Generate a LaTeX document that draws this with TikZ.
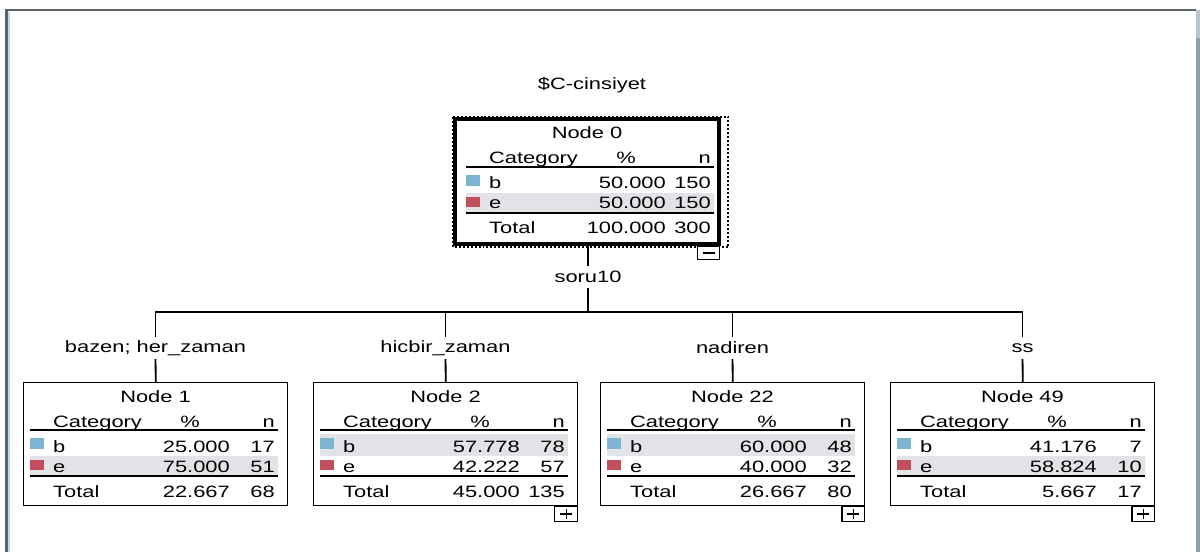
\documentclass[tikz,border=0pt]{standalone}
\usepackage{fontspec}
\setmainfont{Liberation Sans}[FakeStretch=1.33]
\newcommand{\fs}{\fontsize{16.5}{18}\selectfont}
\definecolor{gband}{HTML}{E2E3E6}
\definecolor{cb}{HTML}{7DB3D3}
\definecolor{ce}{HTML}{C1505C}
\definecolor{framec}{HTML}{5E646C}
\definecolor{framel}{HTML}{C8D4E0}
\definecolor{rbar}{HTML}{8AA0A6}
\definecolor{rbartop}{HTML}{B8C4D0}
\tikzset{
  txt/.style={inner sep=0pt, font=\fs},
  lab/.style={txt, inner xsep=2pt, inner ysep=0pt, minimum height=22pt},
  treebox/.style={draw, line width=1.4pt, anchor=north west, inner sep=0pt},
  rule/.style={line width=1.5pt},
  conn/.style={line width=1.8pt},
  tog/.style={draw, line width=1.3pt, anchor=north east, minimum width=23pt, minimum height=15pt, inner sep=0pt, fill=white},
  glyph/.style={line width=1.6pt},
  focus/.style={line width=2pt, dash pattern=on 2pt off 2pt}
}
\begin{document}
\begin{tikzpicture}[x=1bp,y=-1bp]
\useasboundingbox (0,0) rectangle (1200,552);
% window frame
\fill[rbar] (1196,10) rectangle (1200,552);
\fill[rbartop] (1196,10) rectangle (1200,38);
\draw[framel, line width=1.5pt] (9,552) -- (9,12);
\draw[framec, line width=3pt] (6.5,552) -- (6.5,10) -- (1196,10);

% boxes with contents
\foreach \nm/\L/\T/\W/\H/\dx/\ti/\bp/\bn/\ep/\en/\tp/\tn/\gt/\gh in {
  n0/455/119/264/124/4/Node 0/50.000/150/50.000/150/100.000/300/74/20,
  n1/23/382/265/123/0/Node 1/25.000/17/75.000/51/22.667/68/74/19,
  n2/313/382/265/123/0/Node 2/57.778/78/42.222/57/45.000/135/52/22,
  n22/600/382/265/123/0/Node 22/60.000/48/40.000/32/26.667/80/52/22,
  n49/890/382/265/123/0/Node 49/41.176/7/58.824/10/5.667/17/74/19}{
  \node[treebox, minimum width=\W pt, minimum height=\H pt] (\nm) at (\L,\T) {};
  \fill[gband] (\L+\dx+7,\T+\gt) rectangle ++(248,\gh);
  \node[txt, anchor=base] (\nm-title) at (\L+\W/2,\T+20) {\ti};
  \node[txt, anchor=base west] (\nm-cat) at (\L+\dx+30,\T+45) {Category};
  \node[txt, anchor=base] (\nm-pc) at (\L+\dx+167,\T+45) {\%};
  \node[txt, anchor=base east] (\nm-n) at (\L+\dx+252,\T+45) {n};
  \draw[rule] (\L+\dx+7,\T+48) -- ++(248,0);
  \fill[cb] (\L+\dx+7,\T+56) rectangle ++(14,11);
  \node[txt, anchor=base west] (\nm-bl) at (\L+\dx+30,\T+70) {b};
  \node[txt, anchor=base east] (\nm-bp) at (\L+\dx+207,\T+70) {\bp};
  \node[txt, anchor=base east] (\nm-bn) at (\L+\dx+252,\T+70) {\bn};
  \fill[ce] (\L+\dx+7,\T+78) rectangle ++(14,10);
  \node[txt, anchor=base west] (\nm-el) at (\L+\dx+30,\T+90) {e};
  \node[txt, anchor=base east] (\nm-ep) at (\L+\dx+207,\T+90) {\ep};
  \node[txt, anchor=base east] (\nm-en) at (\L+\dx+252,\T+90) {\en};
  \draw[rule] (\L+\dx+7,\T+94) -- ++(248,0);
  \node[txt, anchor=base west] (\nm-tl) at (\L+\dx+30,\T+115) {Total};
  \node[txt, anchor=base east] (\nm-tp) at (\L+\dx+207,\T+115) {\tp};
  \node[txt, anchor=base east] (\nm-tn) at (\L+\dx+252,\T+115) {\tn};
}

% root emphasis
\draw[line width=4pt] (n0.north west) rectangle (n0.south east);
\draw[focus] ([xshift=-2pt,yshift=2pt]n0.north west) rectangle ([xshift=9pt,yshift=-3pt]n0.south east);

% toggles
\node[tog, minimum width=22pt, minimum height=13pt] (n0-tog) at ([xshift=1pt,yshift=-2pt]n0.south east) {};
\draw[glyph] ([xshift=-6pt]n0-tog.center) -- ([xshift=6pt]n0-tog.center);
\foreach \nm in {n2,n22,n49}{
  \node[tog] (\nm-tog) at (\nm.south east) {};
  \draw[glyph] ([xshift=-6pt]\nm-tog.center) -- ([xshift=6pt]\nm-tog.center);
  \draw[glyph] ([yshift=-5pt]\nm-tog.center) -- ([yshift=5pt]\nm-tog.center);
}

% labels
\node[txt] (target) at (592,85) {\$C-cinsiyet};
\node[lab] (soru) at (588,277) {soru10};
\coordinate (split) at (588,312);
\node[lab] (l1) at (155.5,348) {bazen; her\_zaman};
\node[lab] (l2) at (445.5,348) {hicbir\_zaman};
\node[lab] (l22) at (732.5,348) {nadiren};
\node[lab] (l49) at (1022.5,348) {ss};

% connectors
\draw[conn] (n0.south -| soru) -- (soru);
\draw[conn] (soru) -- (split);
\foreach \c in {1,2,22,49}{
  \draw[conn] (split) -| (l\c.north);
  \draw[conn] (l\c) -- (n\c.north);
}
\end{tikzpicture}
\end{document}
